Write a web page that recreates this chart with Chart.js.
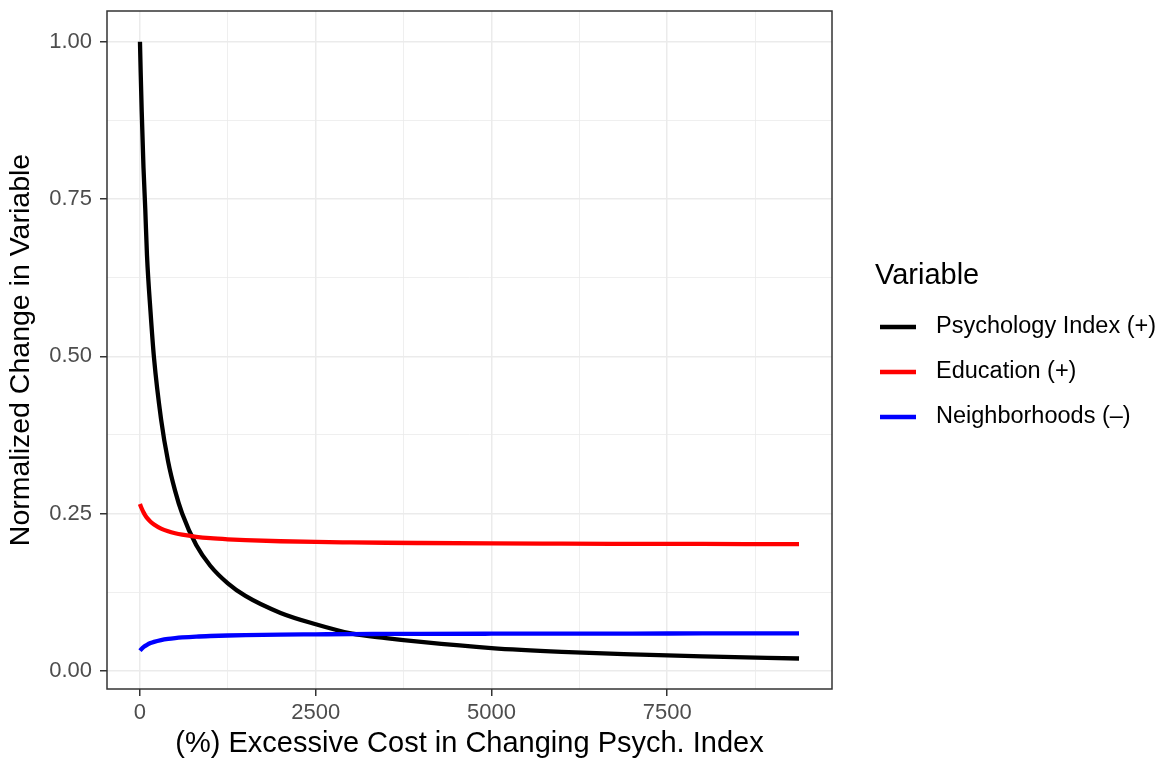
<!DOCTYPE html>
<html>
<head>
<meta charset="utf-8">
<title>Normalized Change in Variable</title>
<script src="https://cdn.jsdelivr.net/npm/chart.js@4.4.0/dist/chart.umd.min.js"></script>
<style>
    html, body { margin: 0; padding: 0; background: #ffffff; }
    #wrap { width: 1164px; height: 761px; }
</style>
</head>
<body>
<div id="wrap"><canvas id="chart" width="1164" height="761"></canvas></div>
<script>
// Values
const costValues = [0, 10, 25, 50, 75, 100, 150, 200, 300, 400, 500, 600, 800, 1000, 1250, 1500, 2000, 2500, 3000, 3500, 4000, 5000, 6000, 7000, 8000, 9375];
const psychologyValues = [1.000, 0.952, 0.889, 0.800, 0.735, 0.660, 0.571, 0.497, 0.400, 0.333, 0.286, 0.250, 0.200, 0.167, 0.139, 0.119, 0.092, 0.074, 0.0595, 0.052, 0.0458, 0.036, 0.030, 0.026, 0.0228, 0.0195];
const educationValues = [0.265, 0.262, 0.258, 0.252, 0.247, 0.243, 0.237, 0.2325, 0.226, 0.2217, 0.2186, 0.2163, 0.213, 0.2108, 0.209, 0.2077, 0.2059, 0.2048, 0.2041, 0.2035, 0.2031, 0.2025, 0.2021, 0.2018, 0.2016, 0.2014];
const neighborhoodValues = [0.032, 0.0333, 0.0351, 0.0376, 0.0396, 0.0413, 0.044, 0.046, 0.0488, 0.0507, 0.052, 0.053, 0.0544, 0.0553, 0.0561, 0.0567, 0.0575, 0.0579, 0.0583, 0.0585, 0.0587, 0.0589, 0.0591, 0.0592, 0.0593, 0.0594];

const xMajorTicks = [0, 2500, 5000, 7500];
const xMinorTicks = [1250, 3750, 6250, 8750];
const yMajorTicks = [0, 0.25, 0.5, 0.75, 1.0];
const yMinorTicks = [0.125, 0.375, 0.625, 0.875];

const seriesLabels = ['Psychology Index (+)', 'Education (+)', 'Neighborhoods (\u2013)'];
const seriesColors = ['#000000', '#FF0000', '#0000FF'];

const FONT = '"Liberation Sans", Arial, Helvetica, sans-serif';

function toPoints(values) {
    return costValues.map((x, i) => ({ x: x, y: values[i] }));
}

function tickList(major, minor) {
    return major.concat(minor).sort((a, b) => a - b).map(v => ({ value: v }));
}

// Panel border drawn above the data
const panelBorder = {
    id: 'panelBorder',
    afterDatasetsDraw(chart) {
        const a = chart.chartArea;
        const ctx = chart.ctx;
        ctx.save();
        ctx.strokeStyle = '#333333';
        ctx.lineWidth = 1.5;
        ctx.strokeRect(a.left, a.top, a.right - a.left, a.bottom - a.top);
        ctx.restore();
    }
};

// Legend on the right, drawn by hand to follow the ggplot layout
const sideLegend = {
    id: 'sideLegend',
    afterDraw(chart) {
        const ctx = chart.ctx;
        ctx.save();
        ctx.fillStyle = '#000000';
        ctx.textBaseline = 'middle';
        ctx.textAlign = 'left';
        ctx.font = '29px ' + FONT;
        ctx.fillText('Variable', 875, 276);

        ctx.font = '23.5px ' + FONT;
        seriesLabels.forEach((label, i) => {
            const y = 327 + i * 45;
            ctx.strokeStyle = seriesColors[i];
            ctx.lineWidth = 4.3;
            ctx.beginPath();
            ctx.moveTo(880, y);
            ctx.lineTo(916, y);
            ctx.stroke();
            ctx.fillStyle = '#000000';
            ctx.fillText(label, 936, y);
        });
        ctx.restore();
    }
};

const lineStyle = {
    borderWidth: 4.3,
    pointRadius: 0,
    fill: false,
    cubicInterpolationMode: 'monotone'
};

new Chart(document.getElementById('chart'), {
    type: 'line',
    data: {
        datasets: [
            Object.assign({ label: seriesLabels[0], data: toPoints(psychologyValues), borderColor: seriesColors[0], order: 3 }, lineStyle),
            Object.assign({ label: seriesLabels[1], data: toPoints(educationValues), borderColor: seriesColors[1], order: 2 }, lineStyle),
            Object.assign({ label: seriesLabels[2], data: toPoints(neighborhoodValues), borderColor: seriesColors[2], order: 1 }, lineStyle)
        ]
    },
    options: {
        responsive: false,
        animation: false,
        layout: { padding: { top: 11, right: 332, bottom: 0, left: 0 } },
        plugins: {
            legend: { display: false },
            tooltip: { enabled: false }
        },
        scales: {
            x: {
                type: 'linear',
                min: -469,
                max: 9844,
                afterBuildTicks: (scale) => { scale.ticks = tickList(xMajorTicks, xMinorTicks); },
                afterFit: (scale) => {
                    scale.height = 72;
                    scale.paddingLeft = 0;
                    scale.paddingRight = 0;
                },
                border: { display: false },
                grid: {
                    color: '#EBEBEB',
                    lineWidth: (c) => xMajorTicks.includes(c.tick.value) ? 1.5 : 0.8,
                    tickColor: (c) => xMajorTicks.includes(c.tick.value) ? '#333333' : 'rgba(0,0,0,0)',
                    tickLength: 7,
                    tickWidth: 1.5
                },
                ticks: {
                    autoSkip: false,
                    maxRotation: 0,
                    padding: 4,
                    color: '#4D4D4D',
                    font: { family: FONT, size: 22 },
                    callback: (v) => xMajorTicks.includes(v) ? String(v) : ''
                },
                title: {
                    display: true,
                    text: '(%) Excessive Cost in Changing Psych. Index',
                    color: '#000000',
                    font: { family: FONT, size: 29 },
                    padding: { top: 0, bottom: 0 }
                }
            },
            y: {
                type: 'linear',
                min: -0.029,
                max: 1.049,
                afterBuildTicks: (scale) => { scale.ticks = tickList(yMajorTicks, yMinorTicks); },
                afterFit: (scale) => {
                    scale.width = 107;
                    scale.paddingTop = 0;
                    scale.paddingBottom = 0;
                },
                border: { display: false },
                grid: {
                    color: '#EBEBEB',
                    lineWidth: (c) => yMajorTicks.includes(c.tick.value) ? 1.5 : 0.8,
                    tickColor: (c) => yMajorTicks.includes(c.tick.value) ? '#333333' : 'rgba(0,0,0,0)',
                    tickLength: 7,
                    tickWidth: 1.5
                },
                ticks: {
                    autoSkip: false,
                    padding: 8,
                    color: '#4D4D4D',
                    font: { family: FONT, size: 22 },
                    callback: (v) => yMajorTicks.includes(v) ? v.toFixed(2) : ''
                },
                title: {
                    display: true,
                    text: 'Normalized Change in Variable',
                    color: '#000000',
                    font: { family: FONT, size: 28.5 },
                    padding: { top: 4, bottom: 0 }
                }
            }
        }
    },
    plugins: [panelBorder, sideLegend]
});
</script>
</body>
</html>
